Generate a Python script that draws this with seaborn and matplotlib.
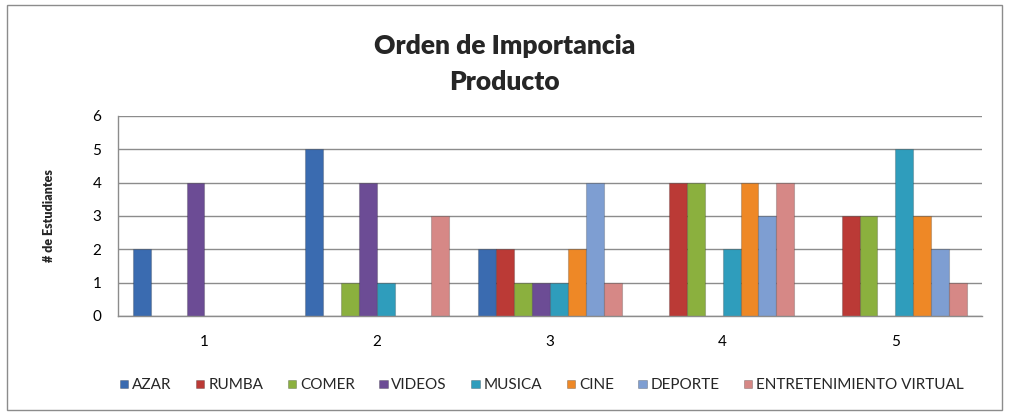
import pandas as pd
import matplotlib.pyplot as plt
import seaborn as sns
from matplotlib.patches import Rectangle, Patch

# Data
orden = ['1', '2', '3', '4', '5']
productos = ['AZAR', 'RUMBA', 'COMER', 'VIDEOS', 'MUSICA', 'CINE', 'DEPORTE',
             'ENTRETENIMIENTO VIRTUAL']
azar = [2, 5, 2, 0, 0]
rumba = [0, 0, 2, 4, 3]
comer = [0, 1, 1, 4, 3]
videos = [4, 4, 1, 0, 0]
musica = [0, 1, 1, 2, 5]
cine = [0, 0, 2, 4, 3]
deporte = [0, 0, 4, 3, 2]
entretenimiento = [0, 3, 1, 4, 1]

colores = ['#3A6BB0', '#BB3A36', '#8BB03E', '#6C4C95', '#2F9DBC', '#EE8826',
           '#7E9ED2', '#D68886']

series = [azar, rumba, comer, videos, musica, cine, deporte, entretenimiento]
rows = []
for prod, vals in zip(productos, series):
    for o, v in zip(orden, vals):
        rows.append({'Orden': o, 'Producto': prod, 'Estudiantes': v})
df = pd.DataFrame(rows)

sns.set_style('white')
plt.rcParams['font.family'] = ['Lato', 'DejaVu Sans']

fig = plt.figure(figsize=(10.09, 4.15), dpi=100)
ax = fig.add_axes([0.117, 0.2386, 0.856, 0.4819])

sns.barplot(data=df, x='Orden', y='Estudiantes', hue='Producto',
            order=orden, hue_order=productos, palette=colores,
            width=0.83, saturation=1, ax=ax, legend=False,
            edgecolor='#00000030', linewidth=0.8)

for bar in ax.patches:
    if bar.get_height() == 0:
        bar.set_visible(False)

ax.set_ylim(0, 6)
ax.set_yticks(range(0, 7))
ax.yaxis.grid(True, color='#8C8C8C', linewidth=1)
ax.set_axisbelow(True)
for s in ['top', 'right']:
    ax.spines[s].set_visible(False)
for s in ['left', 'bottom']:
    ax.spines[s].set_color('#8C8C8C')
    ax.spines[s].set_linewidth(1)
ax.tick_params(axis='both', labelsize=11, colors='black', length=0, pad=12)
ax.tick_params(axis='x', pad=14)
ax.set_xlabel('')
ax.set_ylabel('# de Estudiantes', fontsize=9, fontweight='heavy', labelpad=27)

handles = [Patch(facecolor=c, edgecolor='#00000040', linewidth=0.6, label=p)
           for c, p in zip(colores, productos)]
ax.legend(handles=handles, loc='lower center', bbox_to_anchor=(0.537, 0.022),
          bbox_transform=fig.transFigure, ncol=8, frameon=False, fontsize=11,
          handlelength=0.55, handleheight=0.45, handletextpad=0.25, columnspacing=1.6)

fig.text(0.5, 0.888, 'Orden de Importancia', ha='center', va='center',
         fontsize=19, fontweight='heavy')
fig.text(0.5, 0.803, 'Producto', ha='center', va='center',
         fontsize=19, fontweight='heavy')

fig.patches.append(Rectangle((0.007, 0.012), 0.986, 0.976, transform=fig.transFigure,
                             fill=False, edgecolor='#8C8C8C', linewidth=1))

fig.savefig('out.png', dpi=100)
